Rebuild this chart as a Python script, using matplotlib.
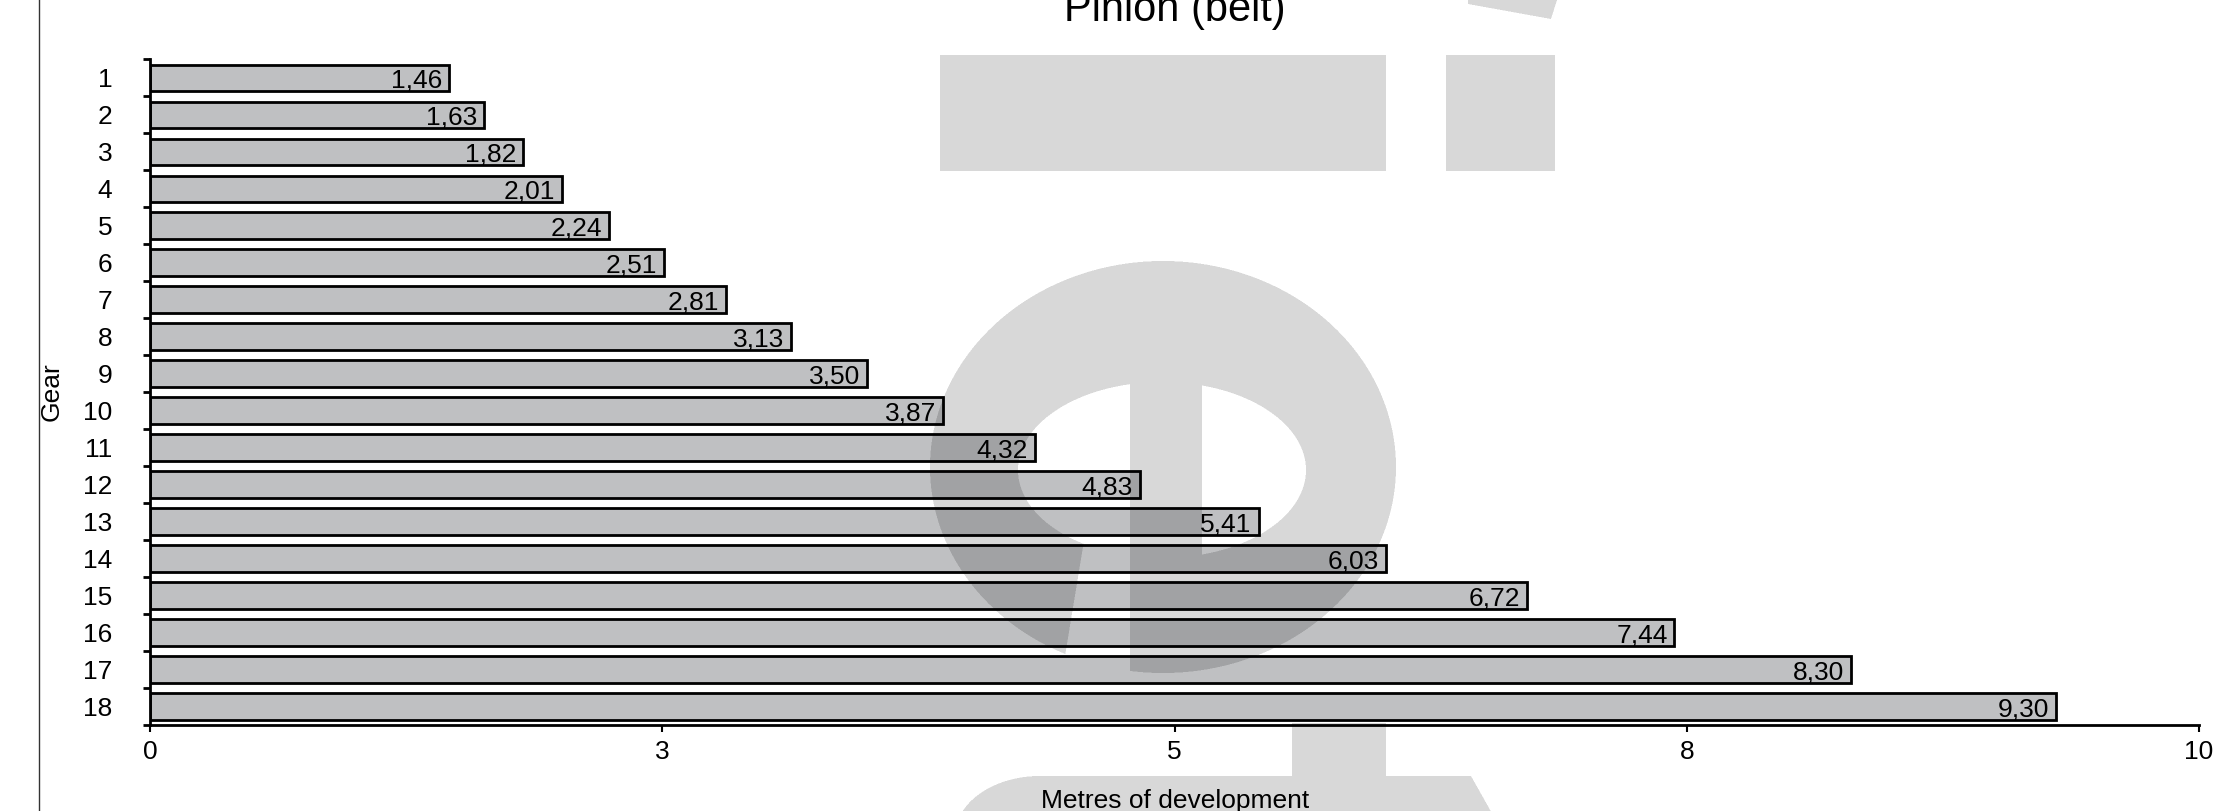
import numpy as np
import matplotlib
matplotlib.use("Agg")
import matplotlib.pyplot as plt
from matplotlib.lines import Line2D

plt.rcParams["font.family"] = ["Liberation Sans", "DejaVu Sans"]

# ---- data ----
gears = list(range(1, 19))
development = [1.46, 1.63, 1.82, 2.01, 2.24, 2.51, 2.81, 3.13, 3.50, 3.87,
               4.32, 4.83, 5.41, 6.03, 6.72, 7.44, 8.30, 9.30]
x_ticks = [0, 2.5, 5, 7.5, 10]
x_tick_labels = ["0", "3", "5", "8", "10"]
title = "Pinion (belt)"
x_label = "Metres of development"
y_label = "Gear"

W, H, DPI = 2216, 811, 100
BAR_COLOR = "#bfc0c2"


def fx(px):
    return px / W


def fy(py):
    return 1 - py / H


fig = plt.figure(figsize=(W / DPI, H / DPI), dpi=DPI)
ax = fig.add_axes([fx(150), fy(725), fx(2199 - 150), (725 - 59.4) / H])

ax.barh(gears, development, height=0.72, color=BAR_COLOR,
        edgecolor="black", linewidth=2, zorder=2)
for g, v in zip(gears, development):
    ax.annotate(f"{v:.2f}".replace(".", ","), (v, g), xytext=(-5, 0),
                textcoords="offset points", ha="right", va="center_baseline",
                fontsize=19, zorder=3)

ax.set_xlim(0, 10)
ax.set_ylim(18.5, 0.5)
ax.set_xticks(x_ticks)
ax.set_xticklabels(x_tick_labels, fontsize=19)
ax.tick_params(axis="x", length=5, width=1.5, pad=6)

# ticks at category boundaries, labels at centres
ax.set_yticks(np.arange(0.5, 19, 1))
ax.set_yticklabels([])
ax.tick_params(axis="y", which="major", length=5, width=2)
ax.set_yticks(gears, minor=True)
ax.set_yticklabels([str(g) for g in gears], minor=True, fontsize=19)
ax.tick_params(axis="y", which="minor", length=0, pad=27)

for s in ("top", "right"):
    ax.spines[s].set_visible(False)
for s in ("left", "bottom"):
    ax.spines[s].set_linewidth(2)
ax.spines["left"].set_zorder(4)

fig.text(fx(1175), fy(21), title, fontsize=30, ha="center", va="baseline")
fig.text(fx(1175), fy(789), x_label, fontsize=19, ha="center", va="top")
fig.text(fx(52), fy(392), y_label, fontsize=19, rotation=90,
         ha="center", va="center")
fig.add_artist(Line2D([fx(39), fx(39)], [0, 1], color="#333333", lw=1,
                      transform=fig.transFigure))

# ---- background logo watermark (semi-transparent overlay) ----
ss = 2
yy, xx = np.mgrid[0:H * ss, 0:W * ss]
xx = (xx + 0.5) / ss
yy = (yy + 0.5) / ss

e_out = ((xx - 1163) / 233) ** 2 + ((yy - 467) / 206) ** 2 <= 1
e_in = ((xx - 1162) / 144) ** 2 + ((yy - 470) / 88) ** 2 <= 1
gap = (yy >= 530) & (xx >= 1082 - 0.165 * (yy - 553)) & (xx < 1130)
stem = (xx >= 1130) & (xx <= 1202) & (yy >= 381) & e_out
mask = (e_out & ~e_in & ~gap) | stem

mask |= (xx >= 940) & (xx <= 1386) & (yy >= 55) & (yy <= 171)
mask |= (xx >= 1446) & (xx <= 1555) & (yy >= 55) & (yy <= 171)
mask |= ((xx >= 1468) & (yy <= 4 + (xx - 1468) * 15 / 83)
         & (xx <= 1557 - yy * 6 / 19))
mask |= (xx >= 1292) & (xx <= 1386) & (yy >= 723)
corner = ((xx - 1040) / 85) ** 2 + ((yy - 836) / 60) ** 2 <= 1
mask |= ((yy >= 776) & (xx <= 1471 + (yy - 776) * 18.6 / 33)
         & ((xx >= 1040) | corner))

cov = mask.reshape(H, ss, W, ss).mean(axis=(1, 3))
rgba = np.zeros((H, W, 4))
rgba[..., 3] = 0.153 * cov
fig.figimage(rgba, xo=0, yo=0, origin="upper", zorder=10)

fig.savefig("out.png", dpi=DPI)
